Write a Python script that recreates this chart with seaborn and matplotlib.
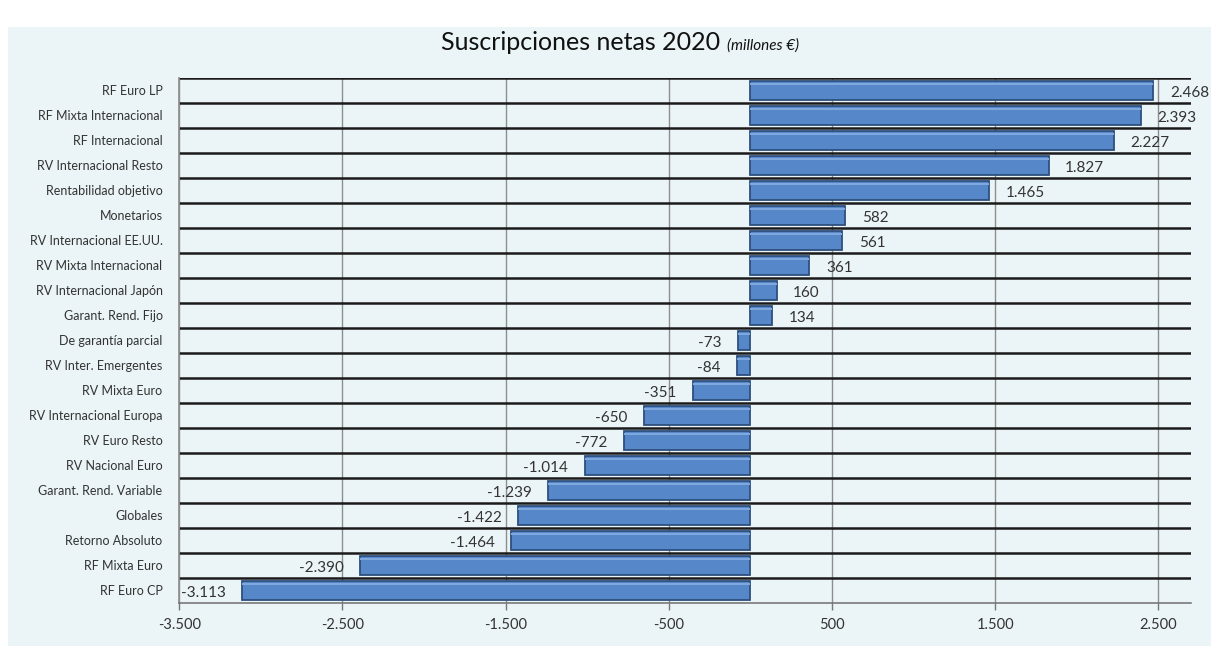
import numpy as np
import pandas as pd
import seaborn as sns
import matplotlib.pyplot as plt
from matplotlib.ticker import FixedLocator, FuncFormatter
from matplotlib.patches import Rectangle

categorias = [
    "RF Euro LP", "RF Mixta Internacional", "RF Internacional",
    "RV Internacional Resto", "Rentabilidad objetivo", "Monetarios",
    "RV Internacional EE.UU.", "RV Mixta Internacional", "RV Internacional Japón",
    "Garant. Rend. Fijo", "De garantía parcial", "RV Inter. Emergentes",
    "RV Mixta Euro", "RV Internacional Europa", "RV Euro Resto",
    "RV Nacional Euro", "Garant. Rend. Variable", "Globales",
    "Retorno Absoluto", "RF Mixta Euro", "RF Euro CP",
]
suscripciones = [2468, 2393, 2227, 1827, 1465, 582, 561, 361, 160, 134,
                 -73, -84, -351, -650, -772, -1014, -1239, -1422, -1464,
                 -2390, -3113]
ticks_x = [-3500, -2500, -1500, -500, 500, 1500, 2500]

df = pd.DataFrame({"categoria": categorias, "valor": suscripciones})

fondo = "#EBF4F7"
sns.set_theme(style="white")
plt.rcParams["font.family"] = ["Lato", "DejaVu Sans"]


def miles(v, pos=None):
    # formato español: punto como separador de miles
    return f"{int(v):,}".replace(",", ".")


fig = plt.figure(figsize=(12.11, 6.49), dpi=100)
fig.patch.set_facecolor("white")
fig.patches.append(Rectangle((0.007, 0.004), 0.993, 0.955, transform=fig.transFigure,
                             facecolor=fondo, edgecolor="none", zorder=-10))
ax = fig.add_axes([0.148, 0.071, 0.8355, 0.809])
ax.set_facecolor(fondo)

sns.barplot(data=df, x="valor", y="categoria", orient="h", color="#5587C9",
            saturation=1, width=0.78, edgecolor="#2E4F7D", linewidth=1.3, ax=ax,
            zorder=3)

# brillo superior de las barras (efecto relieve)
ax.barh(np.arange(len(suscripciones)) - 0.25, suscripciones, height=0.1,
        color="#7FA9DE", edgecolor="none", zorder=4)

for i, v in enumerate(suscripciones):
    off = 12 if v > 0 else -12
    ha = "left" if v > 0 else "right"
    ax.annotate(miles(v), (v, i), xytext=(off, -2), textcoords="offset points",
                ha=ha, va="center", fontsize=11, color="#333333", zorder=5)

ax.set_xlim(-3500, 2700)
ax.set_ylim(len(categorias) - 0.5, -0.5)
ax.xaxis.set_major_locator(FixedLocator(ticks_x))
ax.xaxis.set_major_formatter(FuncFormatter(miles))
# líneas negras entre categorías (sin la del eje inferior)
ax.yaxis.set_minor_locator(FixedLocator(np.arange(-0.5, len(categorias) - 1, 1)))

ax.grid(True, which="major", axis="x", color="#8E8E8E", linewidth=1, zorder=1)
ax.grid(True, which="minor", axis="y", color="#1A1A1A", linewidth=1.8, zorder=2)
ax.set_axisbelow(True)

ax.tick_params(axis="x", which="major", length=5, width=1, color="#777777",
               labelsize=10.5, labelcolor="#333333", pad=6, bottom=True)
ax.tick_params(axis="y", which="both", length=0, labelsize=9, labelcolor="#333333", pad=12)

for s in ["top", "right"]:
    ax.spines[s].set_visible(False)
ax.spines["left"].set_color("#8E8E8E")
ax.spines["bottom"].set_color("#6E6E6E")
ax.spines["bottom"].set_linewidth(1.1)

ax.set_xlabel("")
ax.set_ylabel("")

fig.text(0.595, 0.935, "Suscripciones netas 2020", ha="right", va="center",
         fontsize=18, color="#111111")
fig.text(0.6, 0.93, "(millones €)", ha="left", va="center",
         fontsize=11, style="italic", color="#111111")

fig.savefig("out.png", dpi=100, facecolor=fig.get_facecolor())
